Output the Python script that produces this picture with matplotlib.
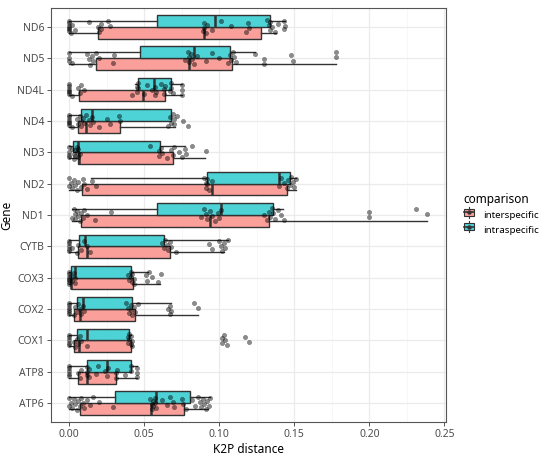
import numpy as np
import matplotlib
matplotlib.use('Agg')
import matplotlib.pyplot as plt
from matplotlib.legend_handler import HandlerBase
from matplotlib.patches import Rectangle
from matplotlib.lines import Line2D

plt.rcParams['font.family'] = ['Noto Sans', 'DejaVu Sans']

# genes from bottom to top
genes = ['ATP6', 'ATP8', 'COX1', 'COX2', 'COX3', 'CYTB', 'ND1',
         'ND2', 'ND3', 'ND4', 'ND4L', 'ND5', 'ND6']

# box statistics, interspecific
inter_lo = [0.0, 0.0, 0.0, 0.0, 0.0, 0.0, 0.002, 0.0, 0.0, 0.0, 0.0, 0.0, 0.0]
inter_q1 = [0.0073, 0.0062, 0.0033, 0.0035, 0.0013, 0.0062, 0.008, 0.0088, 0.0058, 0.0062, 0.0066, 0.0177, 0.0195]
inter_med = [0.0549, 0.0122, 0.0064, 0.0075, 0.0015, 0.0122, 0.0938, 0.0954, 0.0065, 0.011, 0.0494, 0.0799, 0.090]
inter_q3 = [0.0768, 0.0314, 0.0414, 0.044, 0.0427, 0.0673, 0.133, 0.1454, 0.069, 0.0337, 0.064, 0.1087, 0.1275]
inter_hi = [0.0925, 0.0454, 0.042, 0.0861, 0.0606, 0.103, 0.2386, 0.151, 0.0907, 0.0708, 0.0755, 0.178, 0.138]

# box statistics, intraspecific
intra_lo = [0.0, 0.0, 0.0, 0.0, 0.0, 0.0, 0.0018, 0.0146, 0.0, 0.0, 0.044, 0.0, 0.0]
intra_q1 = [0.0305, 0.0122, 0.0051, 0.0055, 0.0013, 0.0068, 0.0587, 0.0916, 0.0029, 0.008, 0.0458, 0.047, 0.0584]
intra_med = [0.0576, 0.025, 0.0122, 0.0093, 0.0042, 0.0106, 0.1014, 0.140, 0.006, 0.0155, 0.0567, 0.0835, 0.097]
intra_q3 = [0.0803, 0.0412, 0.0398, 0.0416, 0.0412, 0.0633, 0.1357, 0.147, 0.0609, 0.068, 0.068, 0.1075, 0.1335]
intra_hi = [0.0936, 0.0454, 0.041, 0.0677, 0.0523, 0.1058, 0.1423, 0.151, 0.0775, 0.068, 0.0755, 0.124, 0.1435]

# individual pairwise distances (all comparisons per gene)
pts_ATP6 = [0.0, 0.0, 0.001, 0.002, 0.003, 0.004, 0.005, 0.006, 0.007, 0.008, 0.009, 0.01, 0.012, 0.014,
            0.016, 0.02, 0.029, 0.054, 0.055, 0.055, 0.056, 0.056, 0.057, 0.057, 0.058, 0.062, 0.065, 0.067,
            0.069, 0.07, 0.075, 0.076, 0.078, 0.082, 0.084, 0.086, 0.087, 0.088, 0.089, 0.09, 0.091, 0.092,
            0.093, 0.094]
pts_ATP8 = [0.0, 0.0, 0.0, 0.0, 0.0, 0.006, 0.007, 0.008, 0.012, 0.012, 0.012, 0.013, 0.013, 0.018, 0.019,
            0.024, 0.025, 0.026, 0.031, 0.031, 0.032, 0.037, 0.041, 0.041, 0.045, 0.045, 0.045]
pts_COX1 = [0.0, 0.0, 0.0, 0.0, 0.0, 0.003, 0.004, 0.005, 0.006, 0.007, 0.008, 0.012, 0.039, 0.039, 0.04,
            0.04, 0.041, 0.041, 0.042, 0.042, 0.102, 0.102, 0.103, 0.104, 0.105, 0.117, 0.12]
pts_COX2 = [0.0, 0.0, 0.0, 0.0, 0.0, 0.0, 0.003, 0.004, 0.005, 0.006, 0.007, 0.008, 0.009, 0.01, 0.038,
            0.039, 0.04, 0.041, 0.041, 0.042, 0.043, 0.044, 0.046, 0.066, 0.067, 0.067, 0.068, 0.083, 0.086]
pts_COX3 = [0.0, 0.0, 0.0, 0.0, 0.0, 0.0, 0.0, 0.001, 0.002, 0.003, 0.004, 0.004, 0.039, 0.04, 0.041,
            0.041, 0.042, 0.042, 0.043, 0.043, 0.051, 0.052, 0.053, 0.055, 0.059, 0.061]
pts_CYTB = [0.0, 0.0, 0.0, 0.0, 0.0, 0.002, 0.005, 0.006, 0.008, 0.01, 0.012, 0.014, 0.062, 0.063, 0.064,
            0.065, 0.066, 0.067, 0.068, 0.071, 0.093, 0.095, 0.1, 0.101, 0.102, 0.103, 0.104, 0.106]
pts_ND1 = [0.002, 0.003, 0.004, 0.004, 0.005, 0.006, 0.007, 0.008, 0.009, 0.01, 0.012, 0.017, 0.028, 0.088,
           0.09, 0.091, 0.092, 0.094, 0.095, 0.097, 0.099, 0.1, 0.101, 0.13, 0.132, 0.133, 0.134, 0.135,
           0.136, 0.137, 0.139, 0.141, 0.143, 0.2, 0.2, 0.231, 0.2386]
pts_ND2 = [0.0, 0.0, 0.001, 0.002, 0.003, 0.004, 0.005, 0.006, 0.008, 0.009, 0.01, 0.012, 0.015, 0.018,
           0.09, 0.091, 0.091, 0.092, 0.092, 0.093, 0.095, 0.14, 0.141, 0.143, 0.145, 0.146, 0.147, 0.148,
           0.149, 0.15, 0.151]
pts_ND3 = [0.0, 0.0, 0.0, 0.0, 0.002, 0.003, 0.003, 0.004, 0.004, 0.005, 0.005, 0.006, 0.006, 0.007, 0.054,
           0.06, 0.06, 0.061, 0.062, 0.065, 0.068, 0.069, 0.07, 0.073, 0.075, 0.077, 0.078, 0.082, 0.091]
pts_ND4 = [0.0, 0.0, 0.0, 0.0, 0.0, 0.0, 0.002, 0.005, 0.006, 0.007, 0.008, 0.008, 0.009, 0.01, 0.011,
           0.013, 0.014, 0.015, 0.016, 0.02, 0.025, 0.027, 0.033, 0.034, 0.066, 0.067, 0.068, 0.069, 0.07,
           0.07, 0.072, 0.076, 0.0795]
pts_ND4L = [0.0, 0.0, 0.0, 0.0, 0.0, 0.0, 0.002, 0.006, 0.007, 0.008, 0.01, 0.042, 0.045, 0.045, 0.046,
            0.046, 0.05, 0.052, 0.055, 0.057, 0.057, 0.058, 0.061, 0.063, 0.063, 0.064, 0.067, 0.068, 0.068,
            0.069, 0.075, 0.075, 0.075]
pts_ND5 = [0.0, 0.0, 0.0, 0.002, 0.012, 0.013, 0.014, 0.015, 0.016, 0.018, 0.02, 0.029, 0.03, 0.077, 0.079,
           0.08, 0.08, 0.081, 0.082, 0.083, 0.085, 0.091, 0.095, 0.1, 0.106, 0.107, 0.108, 0.109, 0.11,
           0.111, 0.124, 0.13, 0.13, 0.148, 0.149, 0.178, 0.178]
pts_ND6 = [0.0, 0.0, 0.0, 0.0, 0.0, 0.0, 0.001, 0.002, 0.004, 0.013, 0.019, 0.02, 0.021, 0.021, 0.026,
           0.027, 0.089, 0.09, 0.09, 0.091, 0.092, 0.095, 0.101, 0.108, 0.118, 0.119, 0.12, 0.132, 0.133,
           0.134, 0.134, 0.135, 0.137, 0.139, 0.143, 0.143, 0.144]

points = [pts_ATP6, pts_ATP8, pts_COX1, pts_COX2, pts_COX3, pts_CYTB, pts_ND1,
          pts_ND2, pts_ND3, pts_ND4, pts_ND4L, pts_ND5, pts_ND6]

groups = ['interspecific', 'intraspecific']
fills = ['#FA9F99', '#4DD2D6']  # ggplot hues at alpha 0.7 on white
edge = '#333333'


def make_stats(lo, q1, med, q3, hi):
    return [dict(whislo=a, q1=b, med=c, q3=d, whishi=e, fliers=[])
            for a, b, c, d, e in zip(lo, q1, med, q3, hi)]


class BoxKey(HandlerBase):
    def __init__(self, color):
        super().__init__()
        self.color = color

    def create_artists(self, legend, orig, xd, yd, w, h, fontsize, trans):
        cx = xd + w / 2
        bw = w * 0.9
        bh = h * 0.75
        by = yd + (h - bh) / 2
        r = Rectangle((cx - bw / 2, by), bw, bh, facecolor=self.color,
                      edgecolor=edge, linewidth=0.8, transform=trans)
        med = Line2D([cx - bw / 2, cx + bw / 2], [yd + h / 2] * 2, color=edge,
                     linewidth=1.2, transform=trans)
        wt = Line2D([cx, cx], [by + bh, yd + h * 1.1], color=edge, linewidth=0.8,
                    transform=trans)
        wb = Line2D([cx, cx], [yd - h * 0.1, by], color=edge, linewidth=0.8,
                    transform=trans)
        dot = Line2D([cx], [yd + h / 2], marker='o', markersize=2.2, color=edge,
                     transform=trans)
        return [r, med, wt, wb, dot]


def main():
    fig = plt.figure(figsize=(5.5, 4.57), dpi=100)
    ax = fig.add_axes([51 / 550, 1 - 422 / 457, 395 / 550, 414 / 457])

    ypos = np.arange(1, len(genes) + 1)
    offs = [-0.1875, 0.1875]
    all_stats = [make_stats(inter_lo, inter_q1, inter_med, inter_q3, inter_hi),
                 make_stats(intra_lo, intra_q1, intra_med, intra_q3, intra_hi)]

    for stats, off, col in zip(all_stats, offs, fills):
        ax.bxp(stats, positions=ypos + off, widths=0.375, orientation='horizontal',
               patch_artist=True, showfliers=False, showcaps=False,
               boxprops=dict(facecolor=col, edgecolor=edge, linewidth=1.0),
               whiskerprops=dict(color=edge, linewidth=1.0),
               medianprops=dict(color=edge, linewidth=1.8),
               zorder=2)

    # jittered points (deterministic vertical spread)
    for y, vals in zip(ypos, points):
        n = len(vals)
        jit = ((np.arange(n) * 0.618034 + 0.31) % 1 - 0.5) * 0.42
        ax.scatter(vals, y + jit, s=10, c='black', alpha=0.45, linewidths=0.3,
                   edgecolors='black', zorder=3)

    ax.set_xlim(-0.012, 0.251)
    ax.set_ylim(0.4, len(genes) + 0.6)
    ax.set_xticks([0, 0.05, 0.10, 0.15, 0.20, 0.25])
    ax.set_xticklabels(['0.00', '0.05', '0.10', '0.15', '0.20', '0.25'])
    ax.set_xticks([0.025, 0.075, 0.125, 0.175, 0.225], minor=True)
    ax.set_yticks(ypos)
    ax.set_yticklabels(genes)

    ax.grid(True, which='major', color='#EBEBEB', linewidth=0.9, zorder=0)
    ax.grid(True, which='minor', axis='x', color='#F4F4F4', linewidth=0.5, zorder=0)
    ax.set_axisbelow(True)
    ax.tick_params(axis='both', which='major', length=3, width=0.7, color='#555555',
                   labelsize=7.5, labelcolor='#4D4D4D', pad=2)
    ax.tick_params(axis='both', which='minor', length=0)
    for sp in ax.spines.values():
        sp.set_color('#555555')
        sp.set_linewidth(0.8)

    ax.set_xlabel('K2P distance', fontsize=8.5, labelpad=2)
    ax.set_ylabel('Gene', fontsize=8.5, labelpad=3)

    handles = [Rectangle((0, 0), 1, 1, label=g) for g in groups]
    fig.legend(handles, groups, loc='center left', bbox_to_anchor=(0.843, 0.532),
               frameon=False, fontsize=7, title='comparison', title_fontsize=8.5,
               handler_map={handles[0]: BoxKey(fills[0]), handles[1]: BoxKey(fills[1])},
               handlelength=1.1, handleheight=1.1, handletextpad=0.9,
               labelspacing=0.45, alignment='left', borderpad=0, borderaxespad=0)

    fig.savefig('out.png', dpi=100)


if __name__ == '__main__':
    main()
